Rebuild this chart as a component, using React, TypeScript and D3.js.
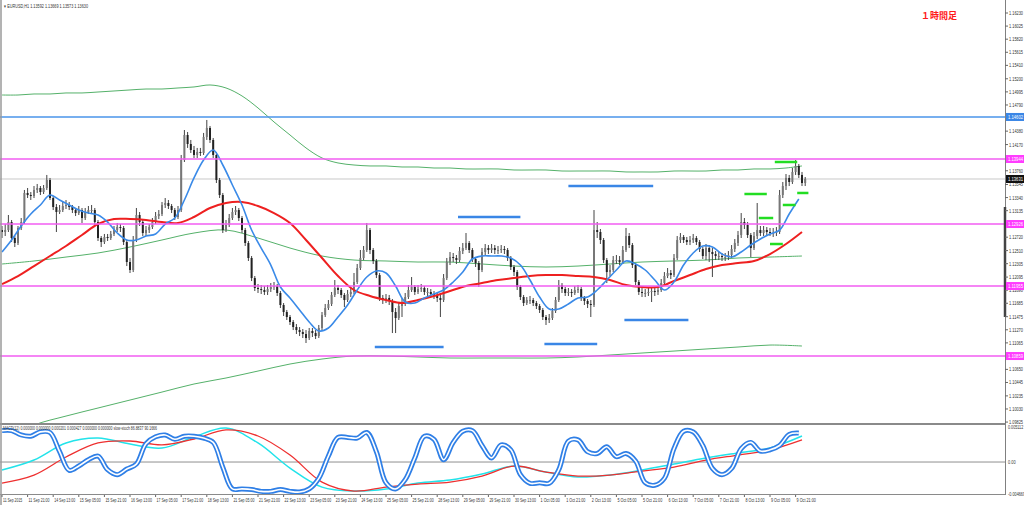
import React from "react";
import * as d3 from "d3";

// ---- price data: 2-hour candles (open = previous close) ----
const firstOpen = 1.12832;
const closes = [
  1.12801,1.12832,1.12957,1.12707,1.12629,1.12864,1.12957,1.13412,1.13380,1.13365,
  1.13459,1.13490,1.13427,1.13490,1.13615,1.13333,1.13192,1.13114,1.13145,1.13208,
  1.13224,1.13192,1.13145,1.13098,1.13145,1.13020,1.13114,1.13145,1.13145,1.12957,
  1.12707,1.12644,1.12723,1.12707,1.12770,1.12832,1.12879,1.12864,1.12644,1.12331,
  1.12206,1.12676,1.13067,1.12957,1.12785,1.12832,1.12879,1.12957,1.13051,1.13083,
  1.13224,1.13255,1.13208,1.13145,1.13036,1.13145,1.13928,1.14320,1.14179,1.14085,
  1.14007,1.14054,1.14038,1.14289,1.14430,1.14242,1.14007,1.13615,1.13380,1.12832,
  1.12911,1.13020,1.13114,1.13145,1.13020,1.12832,1.12629,1.12394,1.12080,1.11924,
  1.11908,1.11893,1.11862,1.11908,1.11940,1.11955,1.11846,1.11658,1.11548,1.11470,
  1.11392,1.11313,1.11266,1.11235,1.11204,1.11141,1.11251,1.11219,1.11172,1.11298,
  1.11501,1.11611,1.11674,1.11815,1.11924,1.11893,1.11815,1.11736,1.11830,1.11862,
  1.12018,1.12237,1.12394,1.12519,1.12832,1.12519,1.12347,1.12127,1.11768,1.11736,
  1.11768,1.11721,1.11548,1.11454,1.11642,1.11689,1.11783,1.11893,1.11940,1.11862,
  1.11908,1.11924,1.11862,1.11862,1.11830,1.11799,1.11768,1.11736,1.12080,1.12331,
  1.12409,1.12394,1.12362,1.12503,1.12550,1.12629,1.12519,1.12378,1.12315,1.12206,
  1.12488,1.12550,1.12519,1.12550,1.12519,1.12519,1.12535,1.12519,1.12394,1.12253,
  1.12174,1.11940,1.11783,1.11689,1.11736,1.11736,1.11689,1.11642,1.11580,1.11470,
  1.11423,1.11454,1.11564,1.11736,1.11971,1.11908,1.11846,1.11862,1.11846,1.11893,
  1.11908,1.11768,1.11721,1.11674,1.11658,1.12832,1.12801,1.12676,1.12362,1.12174,
  1.12206,1.12362,1.12362,1.12331,1.12519,1.12738,1.12597,1.12284,1.12018,1.11862,
  1.11846,1.11846,1.11862,1.11877,1.11862,1.11893,1.12002,1.12112,1.12159,1.12127,
  1.12394,1.12676,1.12723,1.12676,1.12644,1.12676,1.12707,1.12644,1.12535,1.12425,
  1.12550,1.12488,1.12456,1.12425,1.12425,1.12409,1.12409,1.12441,1.12535,1.12629,
  1.12754,1.12957,1.12911,1.12754,1.12550,1.12738,1.12832,1.12785,1.12832,1.12801,
  1.12785,1.12785,1.12801,1.13380,1.13521,1.13647,1.13584,1.13741,1.13835,1.13694,
  1.13568,1.13631,
];
const highs = [
  1.12895,1.12926,1.13067,1.12989,1.12738,1.12895,1.13020,1.13459,1.13490,1.13427,
  1.13521,1.13553,1.13521,1.13537,1.13694,1.13647,1.13365,1.13239,1.13224,1.13271,
  1.13302,1.13271,1.13224,1.13177,1.13208,1.13177,1.13177,1.13208,1.13224,1.13177,
  1.12989,1.12738,1.12770,1.12770,1.12817,1.12895,1.12942,1.12926,1.12895,1.12676,
  1.12394,1.12738,1.13177,1.13114,1.12989,1.12895,1.12926,1.13020,1.13114,1.13145,
  1.13271,1.13333,1.13302,1.13239,1.13177,1.13208,1.14007,1.14398,1.14367,1.14242,
  1.14148,1.14117,1.14117,1.14352,1.14555,1.14461,1.14273,1.14054,1.13647,1.13412,
  1.12989,1.13083,1.13177,1.13208,1.13177,1.13051,1.12864,1.12660,1.12425,1.12112,
  1.11986,1.11971,1.11955,1.11971,1.12002,1.12018,1.11986,1.11877,1.11689,1.11580,
  1.11501,1.11423,1.11360,1.11313,1.11282,1.11266,1.11298,1.11298,1.11266,1.11345,
  1.11548,1.11674,1.11736,1.11862,1.12049,1.11971,1.11924,1.11846,1.11893,1.11924,
  1.12159,1.12300,1.12519,1.12582,1.12942,1.12864,1.12550,1.12378,1.12159,1.11815,
  1.11830,1.11815,1.11752,1.11611,1.11705,1.11768,1.11846,1.11971,1.12096,1.11971,
  1.11971,1.11986,1.11955,1.11924,1.11908,1.11877,1.11846,1.11815,1.12143,1.12394,
  1.12488,1.12472,1.12441,1.12566,1.12629,1.12785,1.12660,1.12550,1.12409,1.12347,
  1.12550,1.12613,1.12597,1.12613,1.12597,1.12582,1.12597,1.12582,1.12550,1.12425,
  1.12284,1.12206,1.11971,1.11815,1.11783,1.11799,1.11768,1.11721,1.11674,1.11611,
  1.11501,1.11517,1.11611,1.11783,1.12049,1.12002,1.11940,1.11924,1.11908,1.11955,
  1.11971,1.11940,1.11799,1.11752,1.11736,1.13145,1.12957,1.12848,1.12707,1.12394,
  1.12284,1.12425,1.12441,1.12425,1.12582,1.12864,1.12785,1.12629,1.12315,1.12049,
  1.11924,1.11908,1.11924,1.11940,1.11940,1.11955,1.12065,1.12174,1.12237,1.12206,
  1.12456,1.12738,1.12785,1.12754,1.12723,1.12738,1.12770,1.12738,1.12676,1.12566,
  1.12613,1.12597,1.12550,1.12503,1.12488,1.12472,1.12472,1.12503,1.12597,1.12691,
  1.12817,1.13098,1.13020,1.12957,1.12785,1.12801,1.13255,1.12895,1.12895,1.12879,
  1.12864,1.12864,1.12879,1.13459,1.13584,1.13709,1.13694,1.13803,1.13928,1.13866,
  1.13741,1.13662,
];
const lows = [
  1.12707,1.12738,1.12801,1.12644,1.12566,1.12597,1.12832,1.12926,1.13333,1.13302,
  1.13333,1.13412,1.13380,1.13396,1.13459,1.13302,1.13145,1.12801,1.13083,1.13114,
  1.13161,1.13145,1.13098,1.13051,1.13067,1.12942,1.12989,1.13083,1.13083,1.12895,
  1.12660,1.12566,1.12613,1.12660,1.12676,1.12738,1.12801,1.12801,1.12597,1.12268,
  1.12159,1.12174,1.12644,1.12895,1.12738,1.12738,1.12785,1.12848,1.12926,1.13004,
  1.13051,1.13177,1.13161,1.13098,1.12989,1.13004,1.13114,1.13897,1.14117,1.14038,
  1.13960,1.13960,1.13991,1.14007,1.14242,1.14195,1.13960,1.13568,1.13333,1.12785,
  1.12801,1.12879,1.12989,1.13067,1.12973,1.12785,1.12582,1.12347,1.12033,1.11877,
  1.11846,1.11830,1.11815,1.11815,1.11862,1.11893,1.11799,1.11611,1.11486,1.11423,
  1.11345,1.11266,1.11204,1.11172,1.11141,1.11063,1.11110,1.11157,1.11125,1.11141,
  1.11266,1.11470,1.11580,1.11642,1.11783,1.11830,1.11768,1.11627,1.11705,1.11783,
  1.11830,1.11986,1.12206,1.12362,1.12488,1.12456,1.12300,1.12080,1.11721,1.11674,
  1.11689,1.11658,1.11219,1.11219,1.11423,1.11470,1.11642,1.11752,1.11862,1.11815,
  1.11830,1.11862,1.11815,1.11799,1.11783,1.11752,1.11705,1.11470,1.11705,1.12049,
  1.12284,1.12331,1.12300,1.12331,1.12456,1.12519,1.12472,1.12331,1.12253,1.11940,
  1.12174,1.12441,1.12456,1.12472,1.12456,1.12456,1.12472,1.12456,1.12347,1.12206,
  1.12112,1.11893,1.11736,1.11642,1.11658,1.11674,1.11642,1.11595,1.11533,1.11423,
  1.11345,1.11376,1.11423,1.11533,1.11705,1.11846,1.11799,1.11799,1.11783,1.11815,
  1.11846,1.11721,1.11658,1.11611,1.11470,1.11627,1.12707,1.12613,1.12315,1.12002,
  1.12112,1.12174,1.12300,1.12284,1.12300,1.12488,1.12550,1.12237,1.11971,1.11815,
  1.11783,1.11783,1.11799,1.11705,1.11799,1.11815,1.11862,1.11971,1.12080,1.12065,
  1.12096,1.12362,1.12629,1.12629,1.12597,1.12597,1.12629,1.12597,1.12488,1.12378,
  1.12362,1.12331,1.12096,1.12362,1.12362,1.12347,1.12347,1.12362,1.12394,1.12488,
  1.12582,1.12707,1.12848,1.12707,1.12409,1.12519,1.12691,1.12738,1.12738,1.12754,
  1.12738,1.12723,1.12738,1.12770,1.13333,1.13459,1.13521,1.13553,1.13694,1.13647,
  1.13521,1.13521,
];

// ---- moving averages / bands ----
const blueMA = [ // every 3 bars
  1.12488,1.12676,1.12895,1.13083,1.13224,1.13380,1.13302,1.13224,1.13145,1.13098,
  1.13067,1.12957,1.12785,1.12676,1.12676,1.12738,1.12770,1.12926,1.13020,1.13302,
  1.13647,1.13928,1.14085,1.13850,1.13537,1.13224,1.12832,1.12550,1.12284,1.11940,
  1.11768,1.11580,1.11392,1.11251,1.11298,1.11470,1.11658,1.11893,1.12096,1.12190,
  1.12159,1.11955,1.11705,1.11689,1.11768,1.11830,1.11893,1.12018,1.12174,1.12378,
  1.12425,1.12425,1.12425,1.12394,1.12284,1.12049,1.11783,1.11595,1.11595,1.11674,
  1.11768,1.11783,1.11893,1.12049,1.12206,1.12347,1.12300,1.12206,1.12049,1.11893,
  1.12018,1.12284,1.12472,1.12582,1.12566,1.12456,1.12409,1.12488,1.12597,1.12691,
  1.12770,1.12832,1.13083,1.13318,
];
const redMA = [ // every 5 bars
  1.11986,1.12112,1.12268,1.12425,1.12582,1.12754,1.12926,1.13004,1.13004,1.12989,
  1.12957,1.12942,1.13036,1.13177,1.13255,1.13271,1.13208,1.13098,1.12942,1.12676,
  1.12394,1.12112,1.11893,1.11799,1.11736,1.11689,1.11736,1.11799,1.11877,1.11955,
  1.12002,1.12049,1.12080,1.12112,1.12127,1.12127,1.12112,1.12096,1.12049,1.11971,
  1.11940,1.11940,1.12033,1.12127,1.12221,1.12284,1.12315,1.12347,1.12456,1.12613,
  1.12801,
];
const bandUpper = [ // every 5 bars
  1.14946,1.14946,1.14962,1.14962,1.14978,1.14978,1.14993,1.15009,1.15025,1.15040,
  1.15040,1.15056,1.15072,1.15103,1.15056,1.14931,1.14743,1.14524,1.14320,1.14117,
  1.13960,1.13882,1.13850,1.13835,1.13835,1.13819,1.13819,1.13803,1.13803,1.13788,
  1.13788,1.13788,1.13772,1.13772,1.13772,1.13756,1.13756,1.13756,1.13756,1.13741,
  1.13741,1.13741,1.13756,1.13756,1.13756,1.13772,1.13772,1.13788,1.13788,1.13803,
  1.13835,
];
const bandMiddle = [ // every 10 bars
  1.12300,1.12347,1.12409,1.12472,1.12566,1.12676,1.12785,1.12832,1.12707,1.12550,
  1.12425,1.12362,1.12347,1.12331,1.12331,1.12300,1.12268,1.12253,1.12268,1.12300,
  1.12331,1.12347,1.12362,1.12394,1.12409,1.12425,
];
const bandLower = [ // every 10 bars
  1.09544,1.09779,1.09919,1.10045,1.10170,1.10295,1.10421,1.10515,1.10624,1.10734,
  1.10812,1.10859,1.10859,1.10844,1.10828,1.10828,1.10828,1.10828,1.10844,1.10875,
  1.10906,1.10937,1.10969,1.11000,1.11031,1.11016,
];

// ---- sub-window indicators ----
const stoch = [ // every 3 bars
  99,99,92,90,97,96,65,35,42,52,58,36,28,37,45,78,89,92,85,90,
  90,87,80,40,5,5,4,1,1,4,1,0,5,22,58,88,88,87,96,65,
  15,5,20,55,90,85,52,80,98,99,75,55,76,68,28,14,15,14,36,82,
  84,65,62,73,57,62,50,15,11,22,70,98,97,75,38,28,38,70,80,66,
  68,75,93,95,
];
const macdMain = [ // every 10 bars
  -0.00117,0.00029,0.00278,0.00351,0.00263,0.00205,0.00366,0.00497,0.00278,-0.00088,
  -0.00366,-0.00424,-0.00395,-0.00307,-0.00263,-0.00176,-0.00059,-0.00146,-0.00219,-0.00190,
  -0.00117,-0.00029,0.00059,0.00132,0.00205,0.00380,
];
const macdSignal = [ // every 10 bars
  -0.00307,-0.00190,0.00073,0.00278,0.00307,0.00249,0.00336,0.00468,0.00380,0.00102,
  -0.00293,-0.00424,-0.00366,-0.00322,-0.00293,-0.00205,-0.00059,-0.00146,-0.00205,-0.00190,
  -0.00132,-0.00073,0.00029,0.00102,0.00176,0.00322,
];

// ---- drawn objects ----
const blueLevels = [1.14602];
const magentaLevels = [1.13944, 1.12926, 1.11955, 1.10859];
const lastPrice = 1.13631;
// [start hour, end hour, price]
const blueSegments = [
  [285, 324, 1.13036], [354, 407, 1.13521], [233, 276, 1.11000],
  [339, 372, 1.11047], [389, 429, 1.11423],
];
const greenSegments = [
  [483, 497, 1.13897], [464, 478, 1.13396], [497, 504, 1.13412],
  [488, 496, 1.13224], [473, 482, 1.13020], [480, 488, 1.12613],
];

// ---- axis labels ----
const priceTicks = [
  1.16230, 1.16025, 1.15820, 1.15615, 1.15410, 1.15200, 1.14995, 1.14790, 1.14380, 1.14170,
  1.13760, 1.13545, 1.13340, 1.13135, 1.12720, 1.12510, 1.12305, 1.12095, 1.11890, 1.11685,
  1.11475, 1.11270, 1.11065, 1.10650, 1.10445, 1.10235, 1.10030, 1.09825,
];
const timeLabels = [
  "11 Sep 2015", "11 Sep 21:00", "14 Sep 13:00", "15 Sep 05:00", "15 Sep 21:00", "16 Sep 13:00",
  "17 Sep 05:00", "17 Sep 21:00", "18 Sep 13:00", "21 Sep 05:00", "21 Sep 21:00", "22 Sep 13:00",
  "23 Sep 05:00", "23 Sep 21:00", "24 Sep 13:00", "25 Sep 05:00", "25 Sep 21:00", "28 Sep 13:00",
  "29 Sep 05:00", "29 Sep 21:00", "30 Sep 13:00", "1 Oct 05:00", "1 Oct 21:00", "2 Oct 13:00",
  "5 Oct 05:00", "5 Oct 21:00", "6 Oct 13:00", "7 Oct 05:00", "7 Oct 21:00", "8 Oct 13:00",
  "9 Oct 05:00", "9 Oct 21:00",
];
const subTicks = [0.005112, 0.0, -0.004669];
const headerText = "EURUSD,H1  1.13592 1.13669 1.13573 1.13630";
const subHeader = "MACD(12) 0.000000 0.000000 0.000201 0.000427 0.000000 0.000000   slow-stoch 86.8837 90.1666";
const titleText = "１時間足";

const BAR_HOURS = 2;
const LABEL_HOURS = 16;
const FONT = "'Liberation Sans', Arial, sans-serif";

export default function App() {
  const x = d3.scaleLinear().domain([0, 496]).range([2, 795.6]);
  const y = d3.scaleLinear().domain([1.09823, 1.1623]).range([422.2, 13]);
  const ys = d3.scaleLinear().domain([0, 100]).range([492, 430]);
  const ym = d3.scaleLinear().domain([-0.004669, 0.005112]).range([494, 427]);
  const AX = 1005;

  const mkLine = (arr: number[], stepBars: number, sc: any) =>
    d3.line<number>()
      .x((_, i) => x(i * stepBars * BAR_HOURS))
      .y((d) => sc(d))
      .curve(d3.curveCatmullRom.alpha(0.5))(arr) as string;

  const candles = closes.map((c, i) => {
    const o = i === 0 ? firstOpen : closes[i - 1];
    const cx = x(i * BAR_HOURS);
    const top = y(Math.max(o, c));
    const bot = y(Math.min(o, c));
    return (
      <g key={i}>
        <line x1={cx} x2={cx} y1={y(highs[i])} y2={y(lows[i])} stroke="#444" strokeWidth={1} />
        <rect x={cx - 1} y={top} width={2} height={Math.max(1, bot - top)} fill={c >= o ? "#777" : "#222"} />
      </g>
    );
  });

  const axisLabel = (val: number, bg: string, key: string, fg = "#fff") => (
    <g key={key}>
      <rect x={AX + 1} y={y(val) - 4} width={19} height={8} fill={bg} />
      <text x={AX + 3} y={y(val) + 2} fontSize={5.2} fill={fg} fontFamily={FONT}
        textLength={15} lengthAdjust="spacingAndGlyphs">{val.toFixed(5)}</text>
    </g>
  );

  return (
    <svg width={1024} height={505} style={{ position: "absolute", left: 0, top: 0, background: "#fff" }}>
      <defs>
        <clipPath id="mainClip"><rect x={0} y={0} width={AX} height={423} /></clipPath>
        <clipPath id="subClip"><rect x={0} y={425} width={AX} height={69} /></clipPath>
      </defs>
      <rect x={0} y={0} width={1024} height={505} fill="#fff" />

      {/* main window */}
      <g clipPath="url(#mainClip)">
        <line x1={0} x2={AX} y1={y(lastPrice)} y2={y(lastPrice)} stroke="#c8c8c8" strokeWidth={1} />
        <path d={mkLine(bandUpper, 5, y)} fill="none" stroke="#55b16a" strokeWidth={1} />
        <path d={mkLine(bandMiddle, 10, y)} fill="none" stroke="#55b16a" strokeWidth={1} />
        <path d={mkLine(bandLower, 10, y)} fill="none" stroke="#55b16a" strokeWidth={1} />
        {candles}
        <path d={mkLine(redMA, 5, y)} fill="none" stroke="#ee2020" strokeWidth={2} />
        <path d={mkLine(blueMA, 3, y)} fill="none" stroke="#3a8ae8" strokeWidth={1.6} />
        {blueLevels.map((p, i) => (
          <line key={"bl" + i} x1={0} x2={AX} y1={y(p)} y2={y(p)} stroke="#4a94ea" strokeWidth={1.4} />
        ))}
        {magentaLevels.map((p, i) => (
          <line key={"ml" + i} x1={0} x2={AX} y1={y(p)} y2={y(p)} stroke="#f25cf2" strokeWidth={1.4} />
        ))}
        {blueSegments.map((s, i) => (
          <line key={"bs" + i} x1={x(s[0])} x2={x(s[1])} y1={y(s[2])} y2={y(s[2])} stroke="#3a86e6" strokeWidth={2.5} />
        ))}
        {greenSegments.map((s, i) => (
          <line key={"gs" + i} x1={x(s[0])} x2={x(s[1])} y1={y(s[2])} y2={y(s[2])} stroke="#22dd22" strokeWidth={2.5} />
        ))}
      </g>

      {/* header texts */}
      <text x={4} y={8} fontSize={5} fill="#333" fontFamily={FONT} textLength={84} lengthAdjust="spacingAndGlyphs">▾ {headerText}</text>
      <text x={921} y={19} fontSize={9} fontWeight="bold" fill="#ff1a1a" fontFamily="'Noto Sans CJK JP', sans-serif">{titleText}</text>

      {/* sub window */}
      <line x1={0} x2={AX} y1={424} y2={424} stroke="#8a8a8a" strokeWidth={2} />
      <line x1={0} x2={AX} y1={494.5} y2={494.5} stroke="#8a8a8a" strokeWidth={1} />
      <line x1={0} x2={AX} y1={ym(0)} y2={ym(0)} stroke="#909090" strokeWidth={1} />
      <g clipPath="url(#subClip)">
        <path d={mkLine(macdMain, 10, ym)} fill="none" stroke="#22e3ea" strokeWidth={1.5} />
        <path d={mkLine(macdSignal, 10, ym)} fill="none" stroke="#ee3030" strokeWidth={1.3} />
        <path d={mkLine(stoch, 3, ys)} fill="none" stroke="#2f7fe6" strokeWidth={5} />
        <path d={mkLine(stoch, 3, ys)} fill="none" stroke="#ffffff" strokeWidth={1.6} />
      </g>
      <text x={3} y={430} fontSize={4.5} fill="#333" fontFamily={FONT} textLength={154} lengthAdjust="spacingAndGlyphs">{subHeader}</text>

      {/* frame */}
      <line x1={1} x2={1} y1={0} y2={505} stroke="#9a9a9a" strokeWidth={1.5} />
      <line x1={AX + 0.5} x2={AX + 0.5} y1={0} y2={495} stroke="#808080" strokeWidth={1} />
      <line x1={AX} x2={AX} y1={207} y2={317} stroke="#444" strokeWidth={2.5} />

      {/* right price axis */}
      {priceTicks.map((p, i) => (
        <g key={"pt" + i}>
          <line x1={AX} x2={AX + 3} y1={y(p)} y2={y(p)} stroke="#666" />
          <text x={AX + 4} y={y(p) + 2} fontSize={5} fill="#333" fontFamily={FONT}
            textLength={14} lengthAdjust="spacingAndGlyphs">{p.toFixed(5)}</text>
        </g>
      ))}
      {blueLevels.map((p, i) => axisLabel(p, "#3a86e6", "blab" + i))}
      {magentaLevels.map((p, i) => axisLabel(p, "#ff3cff", "mlab" + i))}
      {axisLabel(lastPrice, "#111", "last")}

      {/* sub axis */}
      {subTicks.map((v, i) => {
        const t = v === 0 ? "0.00" : v.toFixed(6);
        return (
          <text key={"st" + i} x={AX + 3} y={ym(v) + 2} fontSize={5} fill="#333" fontFamily={FONT}
            textLength={t.length * 1.9} lengthAdjust="spacingAndGlyphs">{t}</text>
        );
      })}

      {/* time axis */}
      {timeLabels.map((t, i) => (
        <g key={"tl" + i}>
          <line x1={x(i * LABEL_HOURS)} x2={x(i * LABEL_HOURS)} y1={495} y2={497} stroke="#666" />
          <text x={x(i * LABEL_HOURS) + 1} y={502} fontSize={5} fill="#333" fontFamily={FONT}
            textLength={t.length * 1.75} lengthAdjust="spacingAndGlyphs">{t}</text>
        </g>
      ))}
    </svg>
  );
}
